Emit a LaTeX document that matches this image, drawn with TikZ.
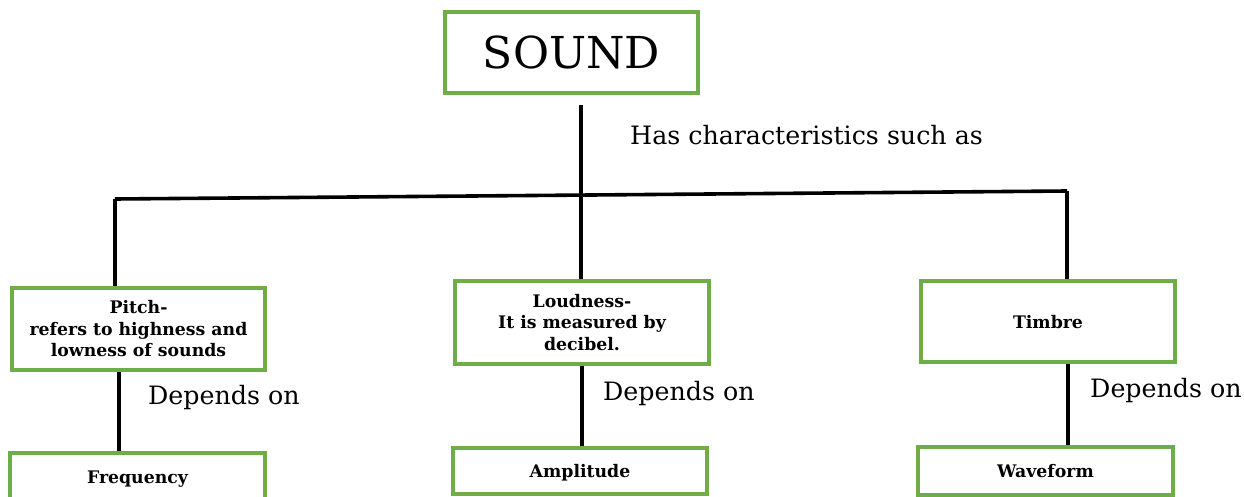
\documentclass[tikz,border=0pt]{standalone}
\usepackage{fontspec}
\setmainfont{DejaVu Serif}
\definecolor{boxgreen}{HTML}{70AD47}
\begin{document}
\begin{tikzpicture}[x=1pt,y=-1pt,
  box/.style={draw=boxgreen, line width=3.5pt, fill=white, inner sep=0pt, align=center,
              font=\bfseries\fontsize{17.3}{21.5}\selectfont},
  one/.style={text depth=0pt},
  conn/.style={line width=3.6pt, black},
  lbl/.style={font=\fontsize{25.3}{28}\selectfont, anchor=west, inner sep=0pt}]
\clip (0,0) rectangle (1244,497);
\useasboundingbox (0,0) rectangle (1244,497);
% boxes
\node[box, minimum width=253pt, minimum height=81pt, font=\fontsize{44}{50}\selectfont] (sound) at (571.5,52.5) {SOUND};
\node[box, minimum width=253pt, minimum height=82pt] (pitch) at (138.5,329) {Pitch-\\refers to highness and\\lowness of sounds};
\node[box, minimum width=254pt, minimum height=83pt] (loud) at (582,322.5) {Loudness-\\It is measured by\\decibel.};
\node[box, one, minimum width=254pt, minimum height=81pt] (timbre) at (1048,321.5) {Timbre};
\node[box, one, minimum width=255pt, minimum height=48pt] (freq) at (137.5,477) {Frequency};
\node[box, one, minimum width=254pt, minimum height=46pt] (amp) at (580,471) {Amplitude};
\node[box, one, minimum width=255pt, minimum height=48pt] (wave) at (1045.5,471) {Waveform};
% junction coordinates
\coordinate (t0) at (581,105);
\coordinate (jl) at (115,199);
\coordinate (jr) at (1067,191);
% connectors
\draw[conn] (t0) -- (t0 |- loud.north);
\draw[conn] (jl) -- (jr);
\draw[conn] (jl) -- (jl |- pitch.north);
\draw[conn] (jr) -- (jr |- timbre.north);
\draw[conn] ([xshift=-19.5pt]pitch.south) -- ([xshift=-18.5pt]freq.north);
\draw[conn] (loud.south) -- (loud.south |- amp.north);
\draw[conn] ([xshift=20pt]timbre.south) -- ([xshift=20pt]timbre.south |- wave.north);
% labels
\node[lbl] (has) at (630,135) {Has characteristics such as};
\node[lbl] (d1) at (148,398) {Depends on};
\node[lbl] (d2) at (603,394) {Depends on};
\node[lbl] (d3) at (1090,391) {Depends on};
\end{tikzpicture}
\end{document}
